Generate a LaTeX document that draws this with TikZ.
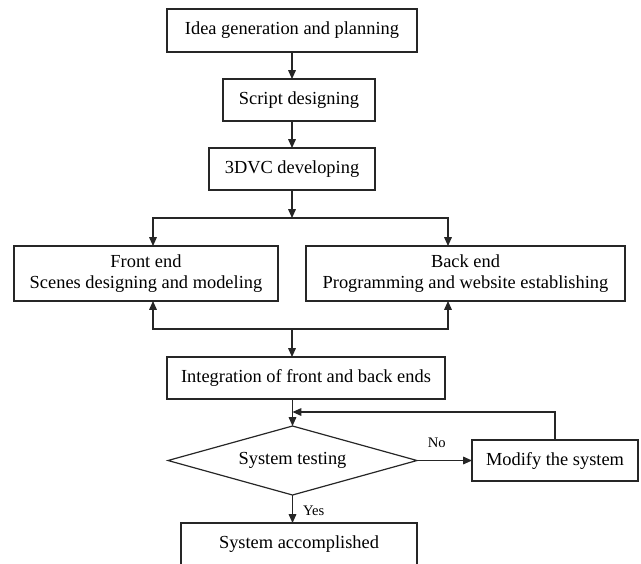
\documentclass[tikz,border=0pt]{standalone}
\usepackage{fontspec}
\setmainfont{Liberation Serif}
\usetikzlibrary{positioning,calc,arrows.meta,shapes.geometric}

\begin{document}
\begin{tikzpicture}[
    stage/.style={draw=black!85, line width=0.6pt, inner sep=1pt, outer sep=0pt,
      align=center, font=\fontsize{9.2}{10.5}\selectfont},
    decision/.style={stage, diamond, aspect=3.6},
    flow/.style={draw=black!85, line width=0.6pt,
      -{Triangle[length=4.4pt,width=3.8pt]}},
    answer/.style={inner sep=1pt, font=\fontsize{7.3}{8}\selectfont}]

            \useasboundingbox (0,0) rectangle (320.5pt,-281.5pt);
            \clip (0,0) rectangle (320.5pt,-281.5pt);

            \node[stage,
            minimum width = 125pt,
            minimum height = 21.5pt] (idea) at (146pt,-15.25pt) {Idea generation and planning};

            \node[stage,
            below = 13.5pt of idea, xshift = 3.5pt,
            minimum width = 76pt,
            minimum height = 21pt] (script) {Script designing};

            \node[stage,
            below = 13.5pt of script, xshift = -3.5pt,
            minimum width = 83pt,
            minimum height = 21pt] (dvc) {3DVC developing};

            \node[stage,
            below = 28pt of dvc, xshift = -73pt,
            minimum width = 132pt,
            minimum height = 27.5pt] (front) {Front end\\Scenes designing and modeling};

            \node[stage,
            right = 14pt of front,
            minimum width = 159.5pt,
            minimum height = 27.5pt] (back) {Back end\\Programming and website establishing};

            \node[stage,
            below = 28pt of front, xshift = 80pt,
            minimum width = 139pt,
            minimum height = 21pt] (integ) {Integration of front and back ends};

            \node[decision,
            below = 13.5pt of integ, xshift = -6.75pt,
            minimum width = 124.5pt,
            minimum height = 34.5pt] (testing) {System testing};

            \node[stage,
            right = 27.5pt of testing,
            minimum width = 83pt,
            minimum height = 20.5pt] (modify) {Modify the system};

            \node[stage,
            below = 14pt of testing, xshift = 3.25pt,
            minimum width = 118pt,
            minimum height = 21pt] (done) {System accomplished};

            % split and merge points
            \coordinate[below = 14pt of dvc.south] (split);
            \coordinate (merge) at ([yshift=-14pt]front.south -| split);
            \coordinate (retest) at ([yshift=7pt]testing.north);

            \draw[flow] (idea.south) -- (idea |- script.north);
            \draw[flow] (script.south -| dvc) -- (dvc.north);
            \draw[flow] (dvc.south) -- (split);
            \draw[flow] (split) -| ([xshift=3.5pt]front.north);
            \draw[flow] (split) -| ([xshift=-8.75pt]back.north);
            \draw[flow] (merge) -| ([xshift=3.5pt]front.south);
            \draw[flow] (merge) -| ([xshift=-8.75pt]back.south);
            \draw[flow] (merge) -- (merge |- integ.north);
            \draw[flow] (integ.south -| testing) -- (testing.north);
            \draw[flow] (modify.north) |- (retest);
            \draw[flow] (testing.east) -- (modify.west)
              node[answer, above = 5pt, pos = 0.36] {No};
            \draw[flow] (testing.south) -- (testing |- done.north)
              node[answer, right = 4pt, pos = 0.55] {Yes};
          \end{tikzpicture}
\end{document}
